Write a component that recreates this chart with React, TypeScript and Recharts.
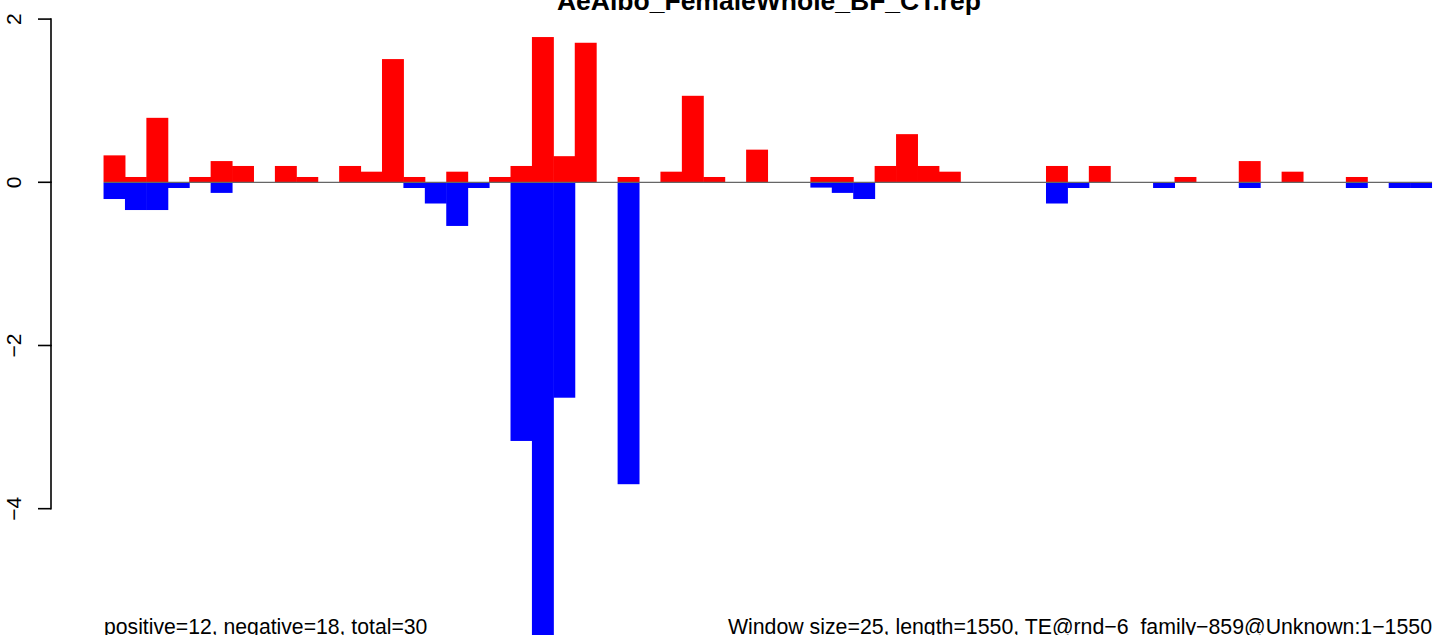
import { BarChart, Bar, XAxis, YAxis, ReferenceLine } from "recharts";

// per-window scores, window size 25 over a 1550 bp element
const positive = [
  0.33, 0.065, 0.79, 0, 0.065, 0.26, 0.2, 0, 0.2, 0.065,
  0, 0.2, 0.13, 1.51, 0.065, 0, 0.13, 0, 0.065, 0.2,
  1.78, 0.32, 1.71, 0, 0.065, 0, 0.13, 1.06, 0.065, 0,
  0.4, 0, 0, 0.065, 0.065, 0, 0.2, 0.59, 0.2, 0.13,
  0, 0, 0, 0, 0.2, 0, 0.2, 0, 0, 0,
  0.065, 0, 0, 0.26, 0, 0.13, 0, 0, 0.065, 0,
  0, 0,
];
const negative = [
  -0.205, -0.34, -0.34, -0.07, 0, -0.13, 0, 0, 0, 0,
  0, 0, 0, 0, -0.07, -0.26, -0.535, -0.07, 0, -3.17,
  -5.6, -2.64, 0, 0, -3.7, 0, 0, 0, 0, 0,
  0, 0, 0, -0.065, -0.13, -0.205, 0, 0, 0, 0,
  0, 0, 0, 0, -0.26, -0.07, 0, 0, 0, -0.07,
  0, 0, 0, -0.07, 0, 0, 0, 0, -0.07, 0,
  -0.07, -0.07,
];
const windows = positive.map((_, i) => i * 25 + 1);
const yTicks = [-4, -2, 0, 2];

const title = "AeAlbo_FemaleWhole_BF_CT.rep";
const leftNote = "positive=12, negative=18, total=30";
const rightNote = "Window size=25, length=1550, TE@rnd\u22126_family\u2212859@Unknown:1\u22121550";

const data = windows.map((w, i) => ({ w, pos: positive[i], neg: negative[i] }));

const W = 1449;
const H = 635;
const PLOT_LEFT = 104;
const PLOT_RIGHT = 1432;
const Y_MIN = -5.548;
const Y_MAX = 2.234;
const PX_PER_UNIT = H / (Y_MAX - Y_MIN);
const BAND = (PLOT_RIGHT - PLOT_LEFT) / data.length;
const FONT = "'Liberation Sans', Arial, Helvetica, sans-serif";

const fmt = (v: number) => (v < 0 ? "\u2212" + Math.abs(v) : String(v));

function YTick(props: any) {
  const { y, payload } = props;
  const v = payload.value as number;
  return (
    <g>
      <line x1={38} x2={51} y1={y} y2={y} stroke="#000" strokeWidth={1.6} />
      {v < 2 && (
        <line x1={51} x2={51} y1={y + 0.8} y2={y - 2 * PX_PER_UNIT - 0.8} stroke="#000" strokeWidth={1.6} />
      )}
      <text
        x={21}
        y={y}
        transform={`rotate(-90 21 ${y})`}
        textAnchor="middle"
        fontFamily={FONT}
        fontSize={21}
        fill="#000"
      >
        {fmt(v)}
      </text>
    </g>
  );
}

// full-width bars centred on the band the library computed
function FullBar(props: any) {
  const { x, y, width, height, fill } = props;
  if (!height || Math.abs(height) < 0.01) return null;
  const cx = x + width / 2;
  const top = height < 0 ? y + height : y;
  return <rect x={cx - BAND / 2 - 0.25} y={top} width={BAND + 0.5} height={Math.abs(height)} fill={fill} />;
}

export default function App() {
  return (
    <div style={{ position: "absolute", left: 0, top: 0, width: W, height: H, background: "#fff" }}>
      <BarChart
        width={W}
        height={H}
        data={data}
        margin={{ top: 0, right: W - PLOT_RIGHT, bottom: 0, left: 0 }}
        barCategoryGap={0}
        barGap={0}
        stackOffset="sign"
      >
        <XAxis dataKey="w" hide />
        <YAxis
          width={PLOT_LEFT}
          domain={[Y_MIN, Y_MAX]}
          allowDataOverflow
          ticks={yTicks}
          axisLine={false}
          tickLine={false}
          tick={<YTick />}
        />
        <ReferenceLine y={0} stroke="#666" strokeWidth={1.3} />
        <Bar dataKey="pos" stackId="s" fill="#ff0000" shape={<FullBar />} isAnimationActive={false} />
        <Bar dataKey="neg" stackId="s" fill="#0000ff" shape={<FullBar />} isAnimationActive={false} />
      </BarChart>
      <svg width={W} height={H} style={{ position: "absolute", left: 0, top: 0, pointerEvents: "none" }}>
        <text x={769} y={10} textAnchor="middle" fontFamily={FONT} fontWeight="bold" fontSize={26.5} fill="#000">
          {title}
        </text>
        <text x={PLOT_LEFT} y={634} fontFamily={FONT} fontSize={21.2} fill="#000">
          {leftNote}
        </text>
        <text x={PLOT_RIGHT} y={634} textAnchor="end" fontFamily={FONT} fontSize={21.3} fill="#000">
          {rightNote}
        </text>
      </svg>
    </div>
  );
}
